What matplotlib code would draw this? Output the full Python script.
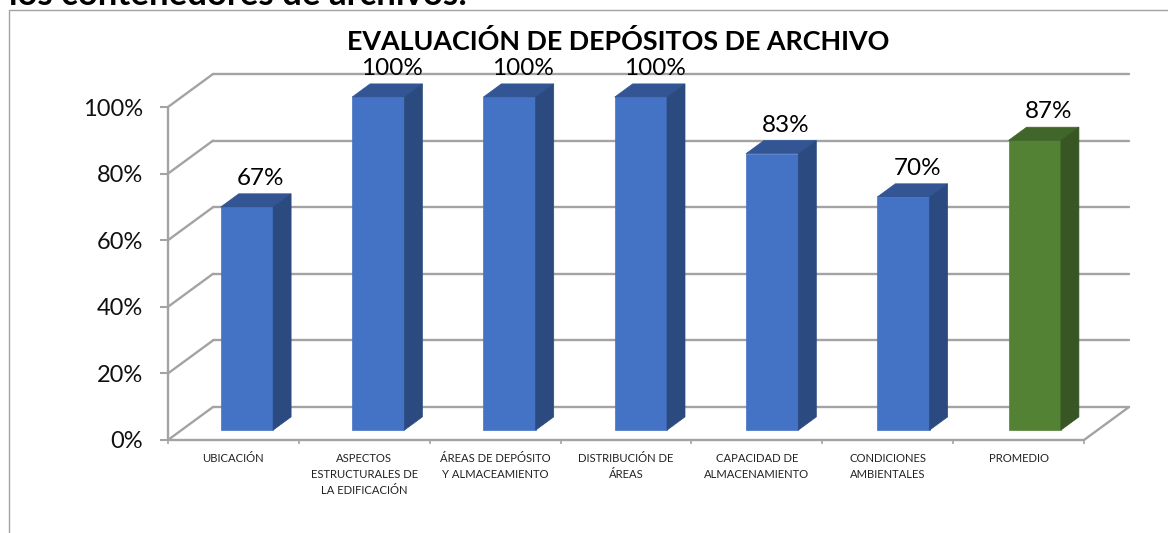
import matplotlib
matplotlib.use("Agg")
import matplotlib.pyplot as plt
from matplotlib.lines import Line2D
from matplotlib.patches import Polygon

categories = ["UBICACIÓN", "ASPECTOS\nESTRUCTURALES DE\nLA EDIFICACIÓN",
              "ÁREAS DE DEPÓSITO\nY ALMACEAMIENTO", "DISTRIBUCIÓN DE\nÁREAS",
              "CAPACIDAD DE\nALMACENAMIENTO", "CONDICIONES\nAMBIENTALES", "PROMEDIO"]
values = [67, 100, 100, 100, 83, 70, 87]
ticks = [0, 20, 40, 60, 80, 100]

W, H = 1168, 533
GREY = "#a3a3a3"
BLUE = ("#4472c4", "#335593", "#2a4a80")
GREEN = ("#548235", "#41662a", "#375623")
BAR_W = 0.4
BAR_STEP = 1.0034  # bars drift slightly from the tick spacing in the original
# how far the back wall sits from the front plane, in data units
DX = 45 / 130.86
DY = 33 / 3.33


def project(x, y, depth):
    return x + DX * depth, y + DY * depth


plt.rcParams["font.family"] = ["Lato", "DejaVu Sans"]
fig = plt.figure(figsize=(W / 100, H / 100), dpi=100)
ax = fig.add_axes([168 / W, 1 - 440 / H, 916 / W, 333 / H])
ax.set_xlim(0, 7)
ax.set_ylim(0, 100)
ax.patch.set_visible(False)
for s in ax.spines.values():
    s.set_visible(False)

# outer chart frame, runs off the crop at the bottom and right
fig.add_artist(Line2D([9 / W, 9 / W, 1167 / W], [0, 1 - 10 / H, 1 - 10 / H], color=GREY, lw=1))

# heading of the page, cut by the top edge
fig.text(9 / W, 1 - 5 / H, "los contenedores de archivos:", fontsize=25, fontweight="bold",
         ha="left", va="baseline", color="black")
fig.text(618.5 / W, 1 - 42 / H, "EVALUACIÓN DE DEPÓSITOS DE ARCHIVO", fontsize=19.35, fontweight="bold",
         ha="center", va="center", color="black")

# walls and floor
line_kw = dict(color=GREY, lw=1.7, clip_on=False, solid_capstyle="round", zorder=1)
for t in ticks:
    bx, by = project(0, t, 1)
    ex, ey = project(7, t, 1)
    ax.plot([bx, ex], [by, ey], **line_kw)
    ax.plot([0, bx], [t, by], **line_kw)
ax.plot([0, 0], [0, 100], **line_kw)
ax.plot([0, 7], [0, 0], **line_kw)
ex, ey = project(7, 0, 1)
ax.plot([7, ex], [0, ey], **line_kw)

# bars, front face sits 0.3 into the depth and the back at 0.7
for i, (v, cat) in enumerate(zip(values, categories)):
    col = GREEN if cat == "PROMEDIO" else BLUE
    c = 0.5 + i * BAR_STEP
    l, r = c - BAR_W / 2, c + BAR_W / 2
    fl = project(l, 0, 0.3)
    fr = project(r, 0, 0.3)
    tl = project(l, v, 0.3)
    tr = project(r, v, 0.3)
    bl_t = project(l, v, 0.7)
    br_t = project(r, v, 0.7)
    br_b = project(r, 0, 0.7)
    ax.add_patch(Polygon([fl, fr, tr, tl], fc=col[0], ec=col[0], lw=0.5, zorder=3, clip_on=False))
    ax.add_patch(Polygon([tl, tr, br_t, bl_t], fc=col[1], ec=col[1], lw=0.5, zorder=3, clip_on=False))
    ax.add_patch(Polygon([fr, br_b, br_t, tr], fc=col[2], ec=col[2], lw=0.5, zorder=3, clip_on=False))
    ax.annotate(f"{v}%", xy=project(c, v, 0.7), xytext=(-3, 3.5), textcoords="offset points",
                ha="center", va="bottom", fontsize=17.5, color="black", zorder=4, annotation_clip=False)

ax.set_yticks(ticks)
ax.set_yticklabels([f"{t}%" for t in ticks], fontsize=17, color="#111111")
ax.tick_params(axis="y", length=6, width=1.5, color=GREY, pad=12)
ax.set_xticks(range(8))
ax.set_xticklabels([])
ax.tick_params(axis="x", length=3, width=1.2, color=GREY)
for i, cat in enumerate(categories):
    ax.annotate(cat, xy=(i + 0.5, 0), xytext=(0, -9.5), textcoords="offset points", ha="center", va="top",
                fontsize=8.1, color="#222222", linespacing=1.55, annotation_clip=False)

fig.savefig("out.png", dpi=100)
